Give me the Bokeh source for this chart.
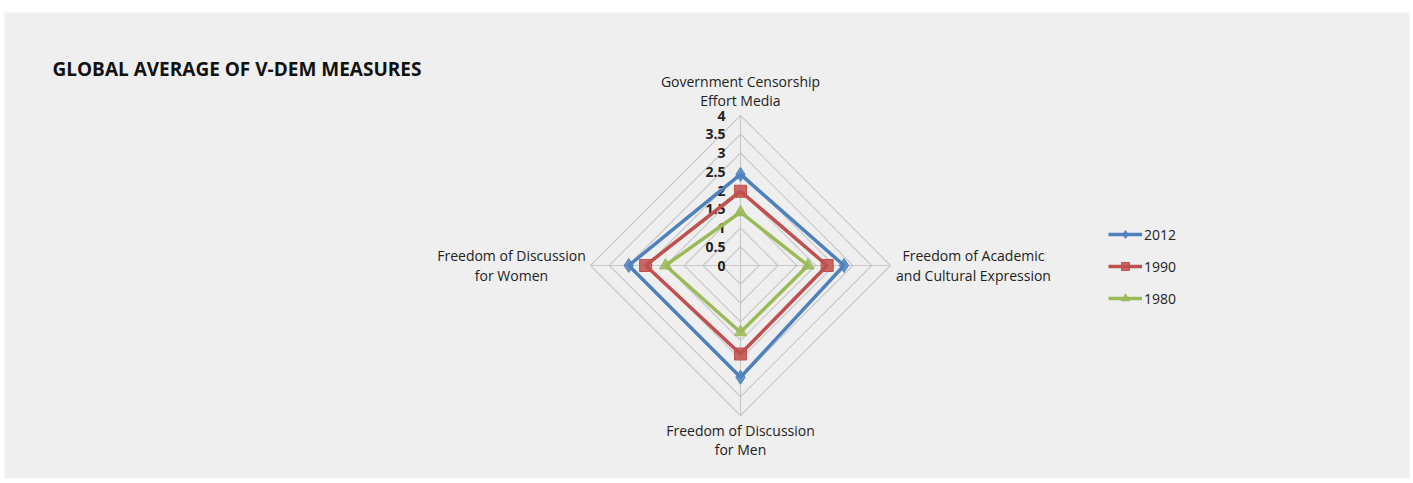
import numpy as np
from bokeh.plotting import figure
from bokeh.models import Legend, LegendItem
from bokeh.core.properties import value
from bokeh.embed import file_html
from bokeh.resources import INLINE

# ---- data ----
categories = ["Government Censorship\nEffort Media",
              "Freedom of Academic\nand Cultural Expression",
              "Freedom of Discussion\nfor Men",
              "Freedom of Discussion\nfor Women"]
series_names = ["2012", "1990", "1980"]
v2012 = [2.43, 2.76, 2.98, 2.98]
v1990 = [1.98, 2.31, 2.36, 2.53]
v1980 = [1.42, 1.80, 1.78, 2.00]
tick_values = [0, 0.5, 1, 1.5, 2, 2.5, 3, 3.5, 4]
tick_labels = ["0", "0.5", "1", "1.5", "2", "2.5", "3", "3.5", "4"]
title = "GLOBAL AVERAGE OF V-DEM MEASURES"

colors = ["#4F81BD", "#C0504D", "#9BBB59"]
markers = ["diamond", "square", "triangle"]
msizes = [14, 12, 12]

# ---- geometry ----
W, H = 1413, 480
ML, MR, MT, MB = 4, 4, 12, 2
PX = 37.5  # px per unit
fw, fh = W - ML - MR, H - MT - MB
cx_px, cy_px = 740 - ML, 265 - MT
x0 = -cx_px / PX
x1 = (fw - cx_px) / PX
y1 = cy_px / PX
y0 = -(fh - cy_px) / PX

angles = np.pi / 2 - np.arange(4) * np.pi / 2  # top, right, bottom, left
ca, sa = np.cos(angles), np.sin(angles)

p = figure(width=W, height=H, x_range=(x0, x1), y_range=(y0, y1),
           output_backend="svg", toolbar_location=None,
           min_border_left=ML, min_border_right=MR, min_border_bottom=MB, min_border_top=MT)
p.background_fill_color = "#efefef"
p.border_fill_color = "white"
p.outline_line_color = None
p.axis.visible = False
p.grid.visible = False

FONT = "Open Sans"
LH = 1.05
GRID = "#c9c9c9"

# grid diamonds
for r in tick_values[1:]:
    xs = list(r * ca) + [r * ca[0]]
    ys = list(r * sa) + [r * sa[0]]
    p.line(xs, ys, line_color=GRID, line_width=1.2)
# spokes
for i in range(4):
    p.line([0, 4 * ca[i]], [0, 4 * sa[i]], line_color=GRID, line_width=1.2)

# tick labels
p.text(x=[0] * len(tick_values), y=tick_values, text=tick_labels,
       text_align="right", text_baseline="middle", x_offset=-15,
       text_font=value(FONT), text_font_style="bold", text_font_size="14px",
       text_color="#222222")

# series
items = []
for name, vals, c, m, s in zip(series_names, [v2012, v1990, v1980], colors, markers, msizes):
    vals = np.array(vals)
    xs = list(vals * ca) + [vals[0] * ca[0]]
    ys = list(vals * sa) + [vals[0] * sa[0]]
    l = p.line(xs, ys, line_color=c, line_width=3.5)
    sc = p.scatter(list(vals * ca), list(vals * sa), marker=m, size=s,
                   fill_color=c, line_color=c, fill_alpha=0.85)
    items.append(LegendItem(label=name, renderers=[l, sc]))

# category labels
R = 4
common = dict(text_font=value(FONT), text_font_size="14px", text_color="#222222",
              text_line_height=LH)
p.text(x=[0], y=[R], text=[categories[0]], text_align="center", text_baseline="bottom",
       y_offset=-5, **common)
p.text(x=[R], y=[0], text=[categories[1]], text_align="center", text_baseline="middle",
       x_offset=83, y_offset=0, **common)
p.text(x=[0], y=[-R], text=[categories[2]], text_align="center", text_baseline="top",
       y_offset=5, **common)
p.text(x=[-R], y=[0], text=[categories[3]], text_align="center", text_baseline="middle",
       x_offset=-79, y_offset=0, **common)

# title
p.text(x=[x0], y=[y1], text=[title], text_align="left", text_baseline="middle",
       x_offset=48, y_offset=56, text_font=value(FONT), text_font_style="bold",
       text_font_size="19px", text_color="#111111")

legend = Legend(items=items, location=(1104, 170), orientation="vertical",
                background_fill_alpha=0, border_line_color=None,
                glyph_width=34, glyph_height=20, spacing=12, label_standoff=2,
                label_text_font=FONT, label_text_font_size="14px",
                label_text_color="#222222", padding=0, margin=0)
p.add_layout(legend)

open("out.html", "w").write(file_html(p, INLINE))
